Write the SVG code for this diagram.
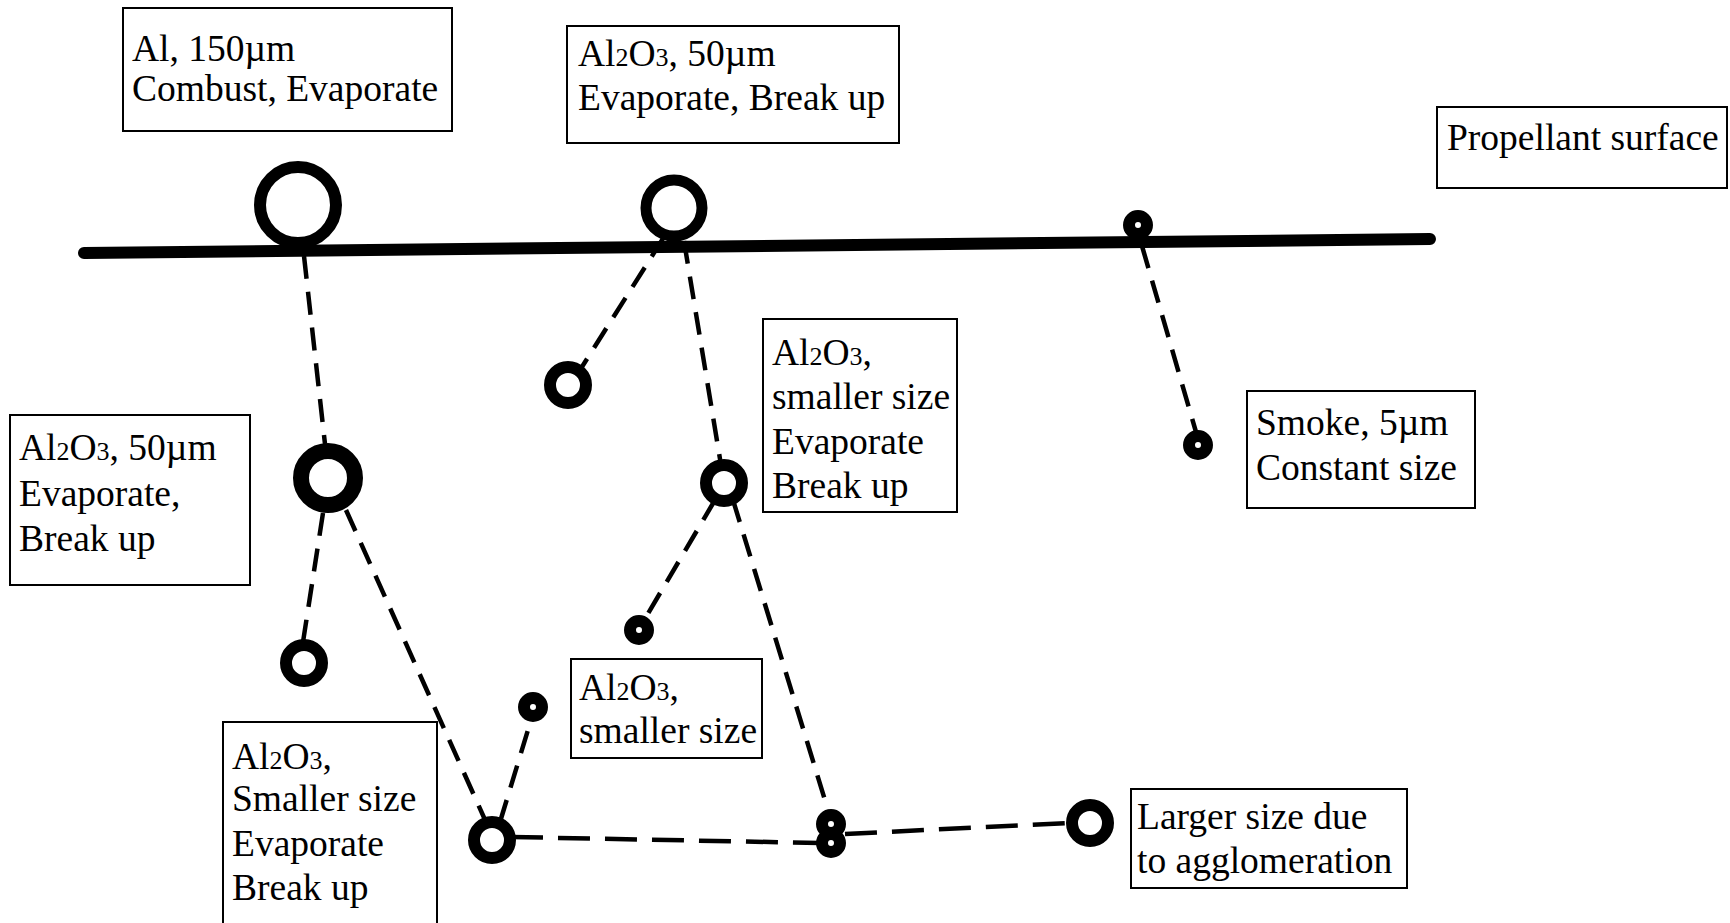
<svg xmlns="http://www.w3.org/2000/svg" width="1730" height="923" viewBox="0 0 1730 923">
<style>
.box{fill:#fff;stroke:#000;stroke-width:2}
.t{font-family:"Liberation Serif","Times New Roman",serif;font-size:37.5px;fill:#000}
.s{font-size:26px}
.ring{fill:#fff;stroke:#000}
.c{fill:none;stroke:#000;stroke-width:4.5;stroke-dasharray:23 13}
.h{fill:none;stroke:#000;stroke-width:4.5;stroke-dasharray:32 15}
</style>
<rect width="1730" height="923" fill="#fff"/>
<g id="connectors">
<line id="surface" x1="84" y1="253" x2="1430" y2="239" stroke="#000" stroke-width="12" stroke-linecap="round"/>
<path class="c" d="M304,256 L325,444"/>
<path class="c" d="M323,513 L303,642"/>
<path class="c" d="M346,510 L486,822"/>
<path class="c" d="M500,822 L531,720"/>
<path class="h" d="M511,837 L820,843"/>
<path class="h" d="M845,834 L1068,823"/>
<path class="c" d="M664,237 L580,370"/>
<path class="c" d="M684,241 L721,465"/>
<path class="c" d="M715,500 L643,622"/>
<path class="c" d="M733,500 L828,810"/>
<path class="c" d="M1142,246 L1196,432"/>
</g>
<g id="n-al"><circle class="ring" cx="298" cy="205" r="38" stroke-width="12"/></g>
<g id="n-al2o3-top"><circle class="ring" cx="674" cy="208" r="28" stroke-width="11"/></g>
<g id="n-smoke-top"><circle class="ring" cx="1138" cy="225" r="9" stroke-width="12"/></g>
<g id="n-a2"><circle class="ring" cx="328" cy="478" r="27" stroke-width="16"/></g>
<g id="n-a2-small"><circle class="ring" cx="304" cy="663" r="18" stroke-width="12"/></g>
<g id="n-b-left"><circle class="ring" cx="568" cy="385" r="18" stroke-width="12"/></g>
<g id="n-b-right"><circle class="ring" cx="724" cy="483" r="18" stroke-width="12"/></g>
<g id="n-b-dot"><circle class="ring" cx="639" cy="630" r="9" stroke-width="12"/></g>
<g id="n-c"><circle class="ring" cx="492" cy="840" r="18" stroke-width="12"/></g>
<g id="n-c-dot"><circle class="ring" cx="533" cy="707" r="9" stroke-width="12"/></g>
<g id="n-double"><circle class="ring" cx="831" cy="824" r="9" stroke-width="12"/><circle class="ring" cx="831" cy="843" r="9" stroke-width="12"/></g>
<g id="n-large"><circle class="ring" cx="1090" cy="823" r="18" stroke-width="12"/></g>
<g id="n-smoke"><circle class="ring" cx="1198" cy="445" r="9" stroke-width="12"/></g>

<g id="label-al"><rect class="box" x="123" y="8" width="329" height="123"/>
<text class="t" x="132" y="61">Al, 150µm</text><text class="t" x="132" y="101">Combust, Evaporate</text></g>
<g id="label-al2o3-50"><rect class="box" x="567" y="26" width="332" height="117"/>
<text class="t" x="578" y="66">Al<tspan class="s">2</tspan>O<tspan class="s">3</tspan>, 50µm</text><text class="t" x="578" y="110">Evaporate, Break up</text></g>
<g id="label-surface"><rect class="box" x="1437" y="107" width="290" height="81"/>
<text class="t" x="1447" y="150">Propellant surface</text></g>
<g id="label-a2"><rect class="box" x="10" y="415" width="240" height="170"/>
<text class="t" x="19" y="460">Al<tspan class="s">2</tspan>O<tspan class="s">3</tspan>, 50µm</text><text class="t" x="19" y="506">Evaporate,</text><text class="t" x="19" y="551">Break up</text></g>
<g id="label-b"><rect class="box" x="763" y="319" width="194" height="193"/>
<text class="t" x="772" y="365">Al<tspan class="s">2</tspan>O<tspan class="s">3</tspan>,</text><text class="t" x="772" y="409">smaller size</text><text class="t" x="772" y="454">Evaporate</text><text class="t" x="772" y="498">Break up</text></g>
<g id="label-smoke"><rect class="box" x="1247" y="391" width="228" height="117"/>
<text class="t" x="1256" y="435">Smoke, 5µm</text><text class="t" x="1256" y="480">Constant size</text></g>
<g id="label-c-dot"><rect class="box" x="571" y="659" width="191" height="99"/>
<text class="t" x="579" y="700">Al<tspan class="s">2</tspan>O<tspan class="s">3</tspan>,</text><text class="t" x="579" y="743">smaller size</text></g>
<g id="label-c"><rect class="box" x="223" y="722" width="214" height="210"/>
<text class="t" x="232" y="769">Al<tspan class="s">2</tspan>O<tspan class="s">3</tspan>,</text><text class="t" x="232" y="811">Smaller size</text><text class="t" x="232" y="856">Evaporate</text><text class="t" x="232" y="900">Break up</text></g>
<g id="label-large"><rect class="box" x="1131" y="789" width="276" height="99"/>
<text class="t" x="1137" y="829">Larger size due</text><text class="t" x="1137" y="873">to agglomeration</text></g>
</svg>
